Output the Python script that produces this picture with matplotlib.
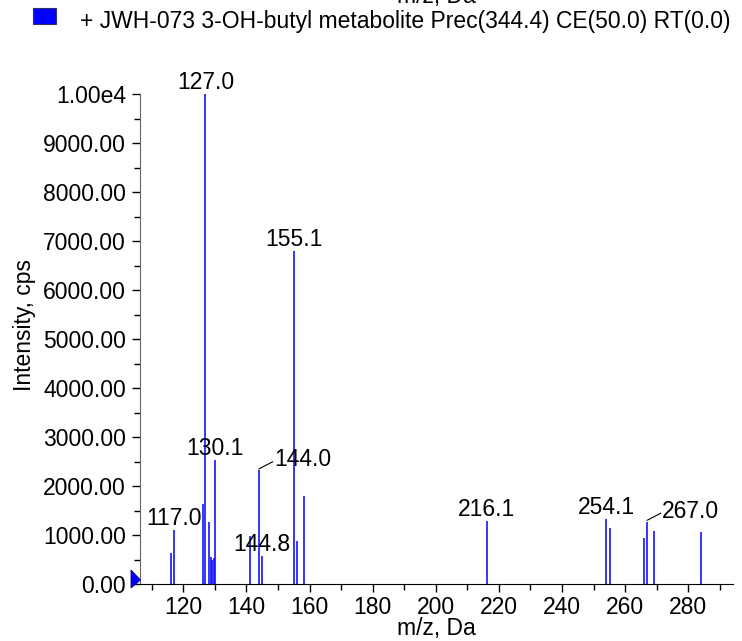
import matplotlib
matplotlib.use("Agg")
import matplotlib.pyplot as plt
from matplotlib.patches import Rectangle, Polygon
from matplotlib.ticker import MultipleLocator, FixedLocator
import matplotlib.transforms as mtransforms

plt.rcParams['font.family'] = ['Liberation Sans', 'DejaVu Sans']

# Data
mz = [116.1, 117.0, 126.1, 127.0, 128.1, 128.6, 129.2, 129.7, 130.1, 141.0, 144.0, 144.8,
      155.1, 156.1, 158.1, 216.1, 254.1, 255.1, 266.1, 267.0, 269.1, 284.1]
intensity = [630, 1100, 1640, 10000, 1270, 560, 490, 525, 2540, 970, 2320, 570,
             6800, 880, 1800, 1280, 1330, 1140, 930, 1270, 1080, 1060]
labels_center = ["117.0", "127.0", "130.1", "144.8", "155.1", "216.1", "254.1"]
labels_side = ["144.0", "267.0"]

yticks = [0, 1000, 2000, 3000, 4000, 5000, 6000, 7000, 8000, 9000, 10000]
ytick_labels = ["0.00", "1000.00", "2000.00", "3000.00", "4000.00", "5000.00",
                "6000.00", "7000.00", "8000.00", "9000.00", "1.00e4"]
xticks = [120, 140, 160, 180, 200, 220, 240, 260, 280]
title = "+ JWH-073 3-OH-butyl metabolite Prec(344.4) CE(50.0) RT(0.0)"

FS = 16.5
W, H = 742, 641
fig = plt.figure(figsize=(W / 100, H / 100), dpi=100)
ax = fig.add_axes([140 / W, 1 - 584 / H, (733 - 140) / W, (584 - 94) / H])

ax.vlines(mz, 0, intensity, colors='#0000ff', linewidth=1.1)
ax.set_xlim(106.25, 294.2)
ax.set_ylim(0, 10000)

ax.spines['top'].set_visible(False)
ax.spines['right'].set_visible(False)
ax.spines['left'].set_color('#666666')
ax.spines['bottom'].set_color('black')

ax.yaxis.set_major_locator(FixedLocator(yticks))
ax.set_yticklabels(ytick_labels)
ax.yaxis.set_minor_locator(MultipleLocator(500))
ax.xaxis.set_major_locator(FixedLocator(xticks))
ax.xaxis.set_minor_locator(MultipleLocator(10))
ax.tick_params(axis='both', which='major', direction='out', length=6, width=1,
               labelsize=FS, color='black')
ax.tick_params(axis='both', which='minor', direction='out', length=4, width=1,
               color='black')
ax.tick_params(axis='y', pad=4)
ax.tick_params(axis='x', pad=3)

ax.set_xlabel("m/z, Da", fontsize=FS)
ax.set_ylabel("Intensity, cps", fontsize=FS)
ax.xaxis.set_label_coords(0.5, -(635 - 584) / 490, transform=ax.transAxes)
ax.xaxis.label.set_va('baseline')
ax.yaxis.set_label_coords(-(140 - 24) / 593, (584 - 325) / 490, transform=ax.transAxes)
ax.yaxis.label.set_va('center')

lookup = dict(zip(["%.1f" % m for m in mz], intensity))
for lab in labels_center:
    x = float(lab)
    y = lookup["%.1f" % x]
    ax.annotate(lab, xy=(x, y), xytext=(0, 5), textcoords='offset pixels',
                ha='center', va='baseline', fontsize=FS, annotation_clip=False)
for lab in labels_side:
    x = float(lab)
    y = lookup["%.1f" % x]
    ax.annotate(lab, xy=(x, y), xytext=(15, 4), textcoords='offset pixels',
                ha='left', va='baseline', fontsize=FS, annotation_clip=False)
    t0 = mtransforms.offset_copy(ax.transData, fig=fig, x=0, y=1.5, units='dots')
    t1 = mtransforms.offset_copy(ax.transData, fig=fig, x=13.5, y=8.5, units='dots')
    p0 = t0.transform((x, y))
    p1 = t1.transform((x, y))
    fig.add_artist(plt.Line2D([p0[0] / W, p1[0] / W], [p0[1] / H, p1[1] / H],
                              transform=fig.transFigure, color='black', linewidth=0.8))

# origin marker (pixel coordinates from top-left)
tri_px = [(131, 570), (131, 588), (140.5, 580)]
fig.add_artist(Polygon([(px / W, 1 - py / H) for px, py in tri_px], closed=True,
                       transform=fig.transFigure, facecolor='#0000ff',
                       edgecolor='#00007f', linewidth=0.6))

# header
fig.add_artist(Rectangle((33 / W, 1 - 24 / H), 23 / W, 16.5 / H, transform=fig.transFigure,
                         facecolor='#0000ff', edgecolor='#333366', linewidth=0.8))
fig.text(80 / W, 1 - 28 / H, title, fontsize=FS, ha='left', va='baseline')
fig.text(436 / W, 1 - 3 / H, "m/z, Da", fontsize=FS, ha='center', va='baseline')

fig.savefig("out.png", dpi=100)
